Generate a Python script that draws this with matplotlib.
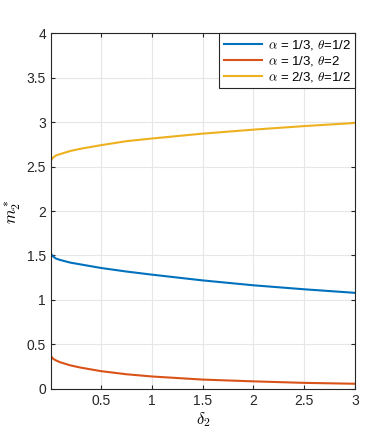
import matplotlib.pyplot as plt

delta = [0.01, 0.03, 0.06, 0.1, 0.2, 0.3, 0.5, 0.75, 1.0, 1.5, 2.0, 2.5, 3.0]
m_blue = [1.52, 1.49, 1.465, 1.45, 1.42, 1.40, 1.36, 1.32, 1.285, 1.22, 1.165, 1.12, 1.08]
m_orange = [0.37, 0.34, 0.32, 0.30, 0.265, 0.24, 0.20, 0.165, 0.14, 0.105, 0.085, 0.068, 0.058]
m_yellow = [2.57, 2.60, 2.625, 2.64, 2.675, 2.70, 2.74, 2.785, 2.815, 2.87, 2.915, 2.955, 2.99]
labels = [r'$\alpha$ = 1/3, $\theta$=1/2', r'$\alpha$ = 1/3, $\theta$=2', r'$\alpha$ = 2/3, $\theta$=1/2']

plt.rcParams['font.family'] = ['Liberation Sans', 'DejaVu Sans']
plt.rcParams['mathtext.fontset'] = 'cm'

fig = plt.figure(figsize=(3.92, 4.36), dpi=100)
ax = fig.add_axes([0.130, 0.108, 0.776, 0.816])

ax.plot(delta, m_blue, color='#0072BD', lw=1.5, label=labels[0])
ax.plot(delta, m_orange, color='#D95319', lw=1.5, label=labels[1])
ax.plot(delta, m_yellow, color='#EDB120', lw=1.5, label=labels[2])

ax.set_xlim(0.01, 3)
ax.set_ylim(0, 4)
ax.set_xticks([0.5, 1, 1.5, 2, 2.5, 3])
ax.set_xticklabels(['0.5', '1', '1.5', '2', '2.5', '3'])
ax.set_yticks([0, 0.5, 1, 1.5, 2, 2.5, 3, 3.5, 4])
ax.set_yticklabels(['0', '0.5', '1', '1.5', '2', '2.5', '3', '3.5', '4'])
ax.grid(True, color='#E6E6E6', lw=0.8)
ax.set_axisbelow(True)
ax.tick_params(direction='in', length=3, labelsize=10, colors='#262626', top=True, right=True,
               labeltop=False, labelright=False)
for s in ax.spines.values():
    s.set_color('#262626')
    s.set_linewidth(0.8)

ax.set_xlabel(r'$\delta_2$', fontsize=12, labelpad=2)
ax.set_ylabel(r'$m_2^*$', fontsize=12, labelpad=2)

leg = ax.legend(loc='upper right', fontsize=9.5, fancybox=False, framealpha=1,
                edgecolor='#262626', borderaxespad=0, handlelength=2.9,
                borderpad=0.35, labelspacing=0.15, handletextpad=0.4)
leg.get_frame().set_linewidth(0.8)

fig.savefig('out.png', dpi=100)
